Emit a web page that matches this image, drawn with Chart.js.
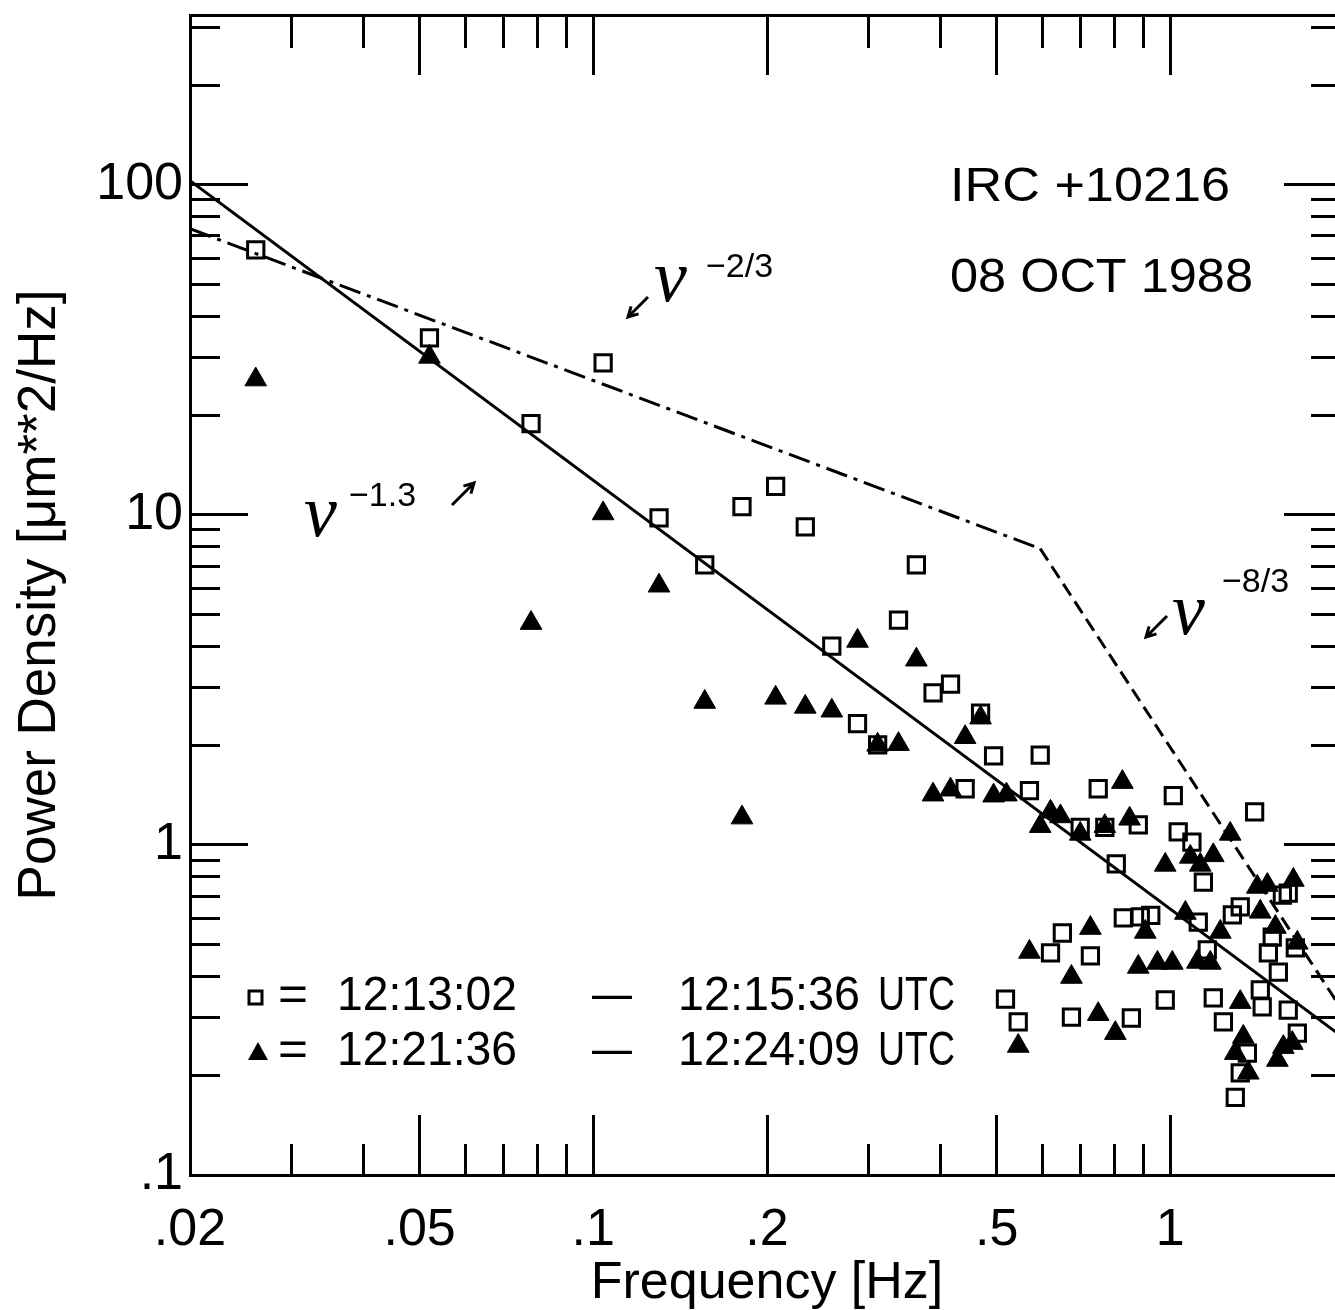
<!DOCTYPE html>
<html>
<head>
<meta charset="utf-8">
<title>IRC +10216 power spectra</title>
<script src="https://cdn.jsdelivr.net/npm/chart.js@4.4.0/dist/chart.umd.min.js"></script>
<style>
    html, body { margin: 0; padding: 0; background: #fff; overflow: hidden; }
    canvas { display: block; }
</style>
</head>
<body>
<canvas id="psdChart" width="1400" height="1310"></canvas>
<script>
// open squares: 12:13:02 - 12:15:36 UTC
const squareFreq = [0.026, 0.052, 0.104, 0.078, 0.130, 0.156, 0.181, 0.207, 0.233, 0.363,
    0.338, 0.259, 0.287, 0.388, 0.416, 0.469, 0.311, 0.441, 0.494, 0.595,
    0.570, 0.698, 0.750, 0.770, 0.880, 0.806, 1.012, 1.032, 1.09, 1.141,
    1.40, 0.518, 0.545, 0.620, 0.650, 0.674, 0.727, 0.856, 0.829, 0.887,
    0.925, 0.980, 1.159, 1.187, 1.118, 1.281, 1.322, 1.236, 1.564, 1.601,
    1.502, 1.647, 1.479, 1.539, 1.432, 1.443, 1.601, 1.660, 1.360, 1.322, 1.296];
const squarePower = [63.5, 34.4, 28.9, 18.9, 9.8, 7.05, 10.6, 12.2, 9.2, 7.05,
    4.8, 4.0, 2.33, 2.89, 3.07, 2.51, 2.01, 1.48, 1.86, 1.87,
    1.46, 1.13, 1.48, 1.13, 1.15, 0.876, 1.41, 1.095, 1.02, 0.772,
    1.26, 0.341, 0.291, 0.471, 0.541, 0.301, 0.461, 0.299, 0.601, 0.605,
    0.612, 0.339, 0.481, 0.344, 0.584, 0.614, 0.649, 0.291, 0.705, 0.715,
    0.526, 0.488, 0.471, 0.412, 0.364, 0.323, 0.316, 0.269, 0.234, 0.204, 0.172];

// filled triangles: 12:21:36 - 12:24:09 UTC
const triangleFreq = [0.026, 0.052, 0.104, 0.078, 0.130, 0.156, 0.181, 0.207, 0.233, 0.259,
    0.287, 0.311, 0.338, 0.363, 0.388, 0.416, 0.441, 0.469, 0.494, 0.520,
    0.595, 0.620, 0.645, 0.698, 0.770, 0.826, 0.850, 0.980, 1.083, 1.127,
    1.187, 1.270, 0.570, 0.545, 0.674, 0.727, 0.750, 0.803, 0.905, 0.880,
    0.950, 1.008, 1.062, 1.114, 1.173, 1.221, 1.415, 1.473, 1.634, 1.432,
    1.521, 1.660, 1.322, 1.338, 1.296, 1.365, 1.570, 1.627, 1.533];
const trianglePower = [25.7, 30.1, 10.1, 4.7, 6.1, 2.71, 1.21, 2.79, 2.62, 2.55,
    4.15, 2.01, 2.02, 3.64, 1.42, 1.47, 2.12, 2.43, 1.41, 1.42,
    1.14, 1.26, 1.22, 1.08, 1.14, 1.55, 1.20, 0.87, 0.92, 0.87,
    0.93, 1.08, 0.474, 0.246, 0.398, 0.560, 0.307, 0.269, 0.545, 0.427,
    0.439, 0.439, 0.622, 0.442, 0.439, 0.545, 0.746, 0.756, 0.783, 0.627,
    0.564, 0.505, 0.334, 0.262, 0.234, 0.204, 0.244, 0.251, 0.223];

// reference power laws, end points
const law13Freq = [0.02, 2];
const law13Power = [103, 0.26];
const law23Freq = [0.02, 0.595];
const law23Power = [73.6, 7.9];
const law83Freq = [0.595, 2];
const law83Power = [7.9, 0.31];

const xMajorTicks = [0.02, 0.05, 0.1, 0.2, 0.5, 1, 2];
const xMajorLabels = ['.02', '.05', '.1', '.2', '.5', '1', ''];
const xMinorTicks = [0.03, 0.04, 0.06, 0.07, 0.08, 0.09, 0.3, 0.4, 0.6, 0.7, 0.8, 0.9];
const yMajorTicks = [0.1, 1, 10, 100];
const yMajorLabels = ['.1', '1', '10', '100'];
const yMinorTicks = [0.2, 0.3, 0.4, 0.5, 0.6, 0.7, 0.8, 0.9, 2, 3, 4, 5, 6, 7, 8, 9,
    20, 30, 40, 50, 60, 70, 80, 90, 200, 300];

const SANS = '"Liberation Sans", Arial, sans-serif';

function toPoints(xs, ys) {
    return xs.map((x, i) => ({ x: x, y: ys[i] }));
}

// one log axis along an edge; ticks point into the plot
function edgeAxis(axis, position, values, tickLen, size, weight, labels, labelPad) {
    const range = axis === 'x' ? { min: 0.02, max: 2 } : { min: 0.1, max: 327 };
    return {
        type: 'logarithmic',
        axis: axis,
        position: position,
        min: range.min,
        max: range.max,
        weight: weight,
        afterBuildTicks: scale => { scale.ticks = values.map(v => ({ value: v })); },
        afterFit: scale => {
            if (axis === 'x') scale.height = size; else scale.width = size;
            // labels are placed by hand, so no overflow padding is needed
            scale.paddingTop = scale.paddingBottom = 0;
            scale.paddingLeft = scale.paddingRight = 0;
        },
        grid: {
            display: true,
            drawOnChartArea: false,
            drawTicks: true,
            tickLength: -tickLen,
            tickWidth: 3,
            tickColor: '#000'
        },
        border: { display: weight === 1, width: 3, color: '#000' },
        ticks: labels ? {
            display: true,
            autoSkip: false,
            maxRotation: 0,
            minRotation: 0,
            padding: labelPad,
            color: '#000',
            font: { family: SANS, size: 52 },
            callback: v => labels[values.indexOf(v)]
        } : { display: false, autoSkip: false }
    };
}

const scales = {
    x: edgeAxis('x', 'bottom', xMajorTicks, 60, 135, 1, xMajorLabels, 84),
    xMinor: edgeAxis('x', 'bottom', xMinorTicks, 31, 0, 0),
    xTop: edgeAxis('x', 'top', xMajorTicks, 60, 15, 1),
    xTopMinor: edgeAxis('x', 'top', xMinorTicks, 33, 0, 0),
    y: edgeAxis('y', 'left', yMajorTicks, 58, 190, 1, yMajorLabels, 65),
    yMinor: edgeAxis('y', 'left', yMinorTicks, 30, 0, 0),
    yRight: edgeAxis('y', 'right', yMajorTicks, 60, 56, 1),
    yRightMinor: edgeAxis('y', 'right', yMinorTicks, 33, 0, 0)
};
scales.x.title = {
    display: true, text: 'Frequency [Hz]', color: '#000', padding: 0,
    font: { family: SANS, size: 52, lineHeight: 1 }
};
scales.y.title = {
    display: true, text: 'Power Density [\u03bcm**2/Hz]', color: '#000', padding: { top: 14, bottom: 0 },
    font: { family: SANS, size: 53, lineHeight: 1 }
};

// draw text squeezed or stretched to a given width
function fitText(ctx, text, x, y, width) {
    const w = ctx.measureText(text).width;
    ctx.save();
    ctx.translate(x, y);
    ctx.scale(width / w, 1);
    ctx.fillText(text, 0, 0);
    ctx.restore();
}

function drawArrow(ctx, x1, y1, x2, y2) {
    const a = Math.atan2(y2 - y1, x2 - x1);
    ctx.beginPath();
    ctx.moveTo(x1, y1);
    ctx.lineTo(x2, y2);
    ctx.moveTo(x2 - 11 * Math.cos(a - 0.5), y2 - 11 * Math.sin(a - 0.5));
    ctx.lineTo(x2, y2);
    ctx.lineTo(x2 - 11 * Math.cos(a + 0.5), y2 - 11 * Math.sin(a + 0.5));
    ctx.stroke();
}

function drawNu(ctx, x, y, sup, sx, sy) {
    ctx.textBaseline = 'alphabetic';
    ctx.font = 'italic 74px "Liberation Serif", "DejaVu Serif", serif';
    ctx.fillText('\u03bd', x, y);
    ctx.font = '34px ' + SANS;
    ctx.fillText(sup, sx, sy);
}

const notesPlugin = {
    id: 'notes',
    afterDraw(chart) {
        const ctx = chart.ctx;
        ctx.save();
        ctx.fillStyle = '#000';
        ctx.strokeStyle = '#000';
        ctx.lineWidth = 3;
        ctx.textAlign = 'left';
        ctx.textBaseline = 'middle';

        ctx.font = '48px ' + SANS;
        fitText(ctx, 'IRC +10216', 950, 188, 280);
        fitText(ctx, '08 OCT 1988', 950, 279, 303);

        drawNu(ctx, 654, 301, '\u22122/3', 706, 277);
        drawArrow(ctx, 648, 297, 628, 317);
        drawNu(ctx, 304, 536, '\u22121.3', 349, 506);
        drawArrow(ctx, 452, 505, 474, 483);
        drawNu(ctx, 1172, 634, '\u22128/3', 1222, 592);
        drawArrow(ctx, 1167, 616, 1146, 637);

        // legend
        ctx.textBaseline = 'middle';
        ctx.lineWidth = 3;
        ctx.strokeRect(249, 991, 13, 13);
        ctx.beginPath();
        ctx.moveTo(258, 1042);
        ctx.lineTo(268, 1060);
        ctx.lineTo(248, 1060);
        ctx.closePath();
        ctx.fill();
        ctx.font = '48px ' + SANS;
        [[997, '12:13:02', '12:15:36'], [1052, '12:21:36', '12:24:09']].forEach(row => {
            fitText(ctx, '=', 278, row[0], 30);
            fitText(ctx, row[1], 337, row[0], 180);
            fitText(ctx, '\u2013', 592, row[0], 40);
            fitText(ctx, row[2], 678, row[0], 182);
            fitText(ctx, 'UTC', 878, row[0], 77);
        });
        ctx.restore();
    }
};

new Chart(document.getElementById('psdChart'), {
    type: 'scatter',
    data: {
        datasets: [
            {
                label: 'nu^-1.3',
                type: 'line',
                data: toPoints(law13Freq, law13Power),
                borderColor: '#000',
                borderWidth: 3,
                pointRadius: 0,
                fill: false
            },
            {
                label: 'nu^-2/3',
                type: 'line',
                data: toPoints(law23Freq, law23Power),
                borderColor: '#000',
                borderWidth: 3,
                borderDash: [22, 7, 4, 7],
                pointRadius: 0,
                fill: false
            },
            {
                label: 'nu^-8/3',
                type: 'line',
                data: toPoints(law83Freq, law83Power),
                borderColor: '#000',
                borderWidth: 3,
                borderDash: [14, 7],
                pointRadius: 0,
                fill: false
            },
            {
                label: '12:13:02 - 12:15:36 UTC',
                data: toPoints(squareFreq, squarePower),
                pointStyle: 'rect',
                pointRadius: 11.5,
                borderColor: '#000',
                borderWidth: 3,
                backgroundColor: 'rgba(0,0,0,0)'
            },
            {
                label: '12:21:36 - 12:24:09 UTC',
                data: toPoints(triangleFreq, trianglePower),
                pointStyle: 'triangle',
                pointRadius: 12.5,
                borderColor: '#000',
                borderWidth: 1,
                backgroundColor: '#000'
            }
        ]
    },
    options: {
        responsive: false,
        animation: false,
        devicePixelRatio: 1,
        events: [],
        layout: { padding: 0 },
        scales: scales,
        plugins: {
            legend: { display: false },
            tooltip: { enabled: false }
        }
    },
    plugins: [notesPlugin]
});
</script>
</body>
</html>
